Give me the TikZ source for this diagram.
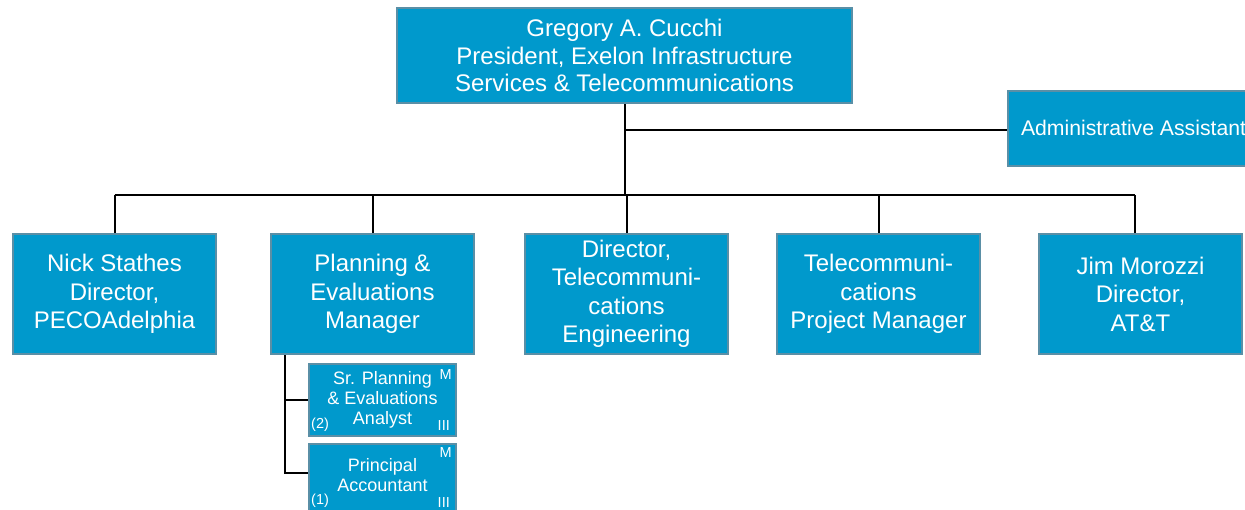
\documentclass[tikz,border=0pt]{standalone}
\usepackage{fontspec}
\setmainfont{Liberation Sans}
\usetikzlibrary{positioning}
\definecolor{boxfill}{HTML}{0099CC}
\definecolor{boxedge}{HTML}{5A8FA6}
\tikzset{
  orgbox/.style={draw=boxedge, line width=2pt, fill=boxfill, text=white, align=center, inner sep=0pt, font=\fontsize{24}{27.5}\selectfont},
  rowbox/.style={orgbox, minimum width=203pt, minimum height=120pt, font=\fontsize{24}{28.5}\selectfont},
  subbox/.style={orgbox, minimum width=147pt, minimum height=72pt, font=\fontsize{18}{20}\selectfont},
  tag/.style={text=white, inner sep=0pt, font=\fontsize{14.5}{15}\selectfont},
  orgline/.style={line width=2pt, black}
}

\begin{document}
\begin{tikzpicture}[x=1pt, y=-1pt]
\clip (0,0) rectangle (1245,509);
\node[orgbox, minimum width=455pt, minimum height=95pt] (pres) at (624.5,55.5) {Gregory A. Cucchi\\President, Exelon Infrastructure\\Services \& Telecommunications};
\node[orgbox, minimum height=75pt, anchor=west, inner xsep=13pt, font=\fontsize{21.2}{24}\selectfont] (admin) at (1007,128) {Administrative Assistant};
\node[rowbox] (stathes) at (114.5,294) {Nick Stathes\\Director,\\PECOAdelphia};
\node[rowbox] (pem) at (372.5,294) {Planning \&\\Evaluations\\Manager};
\node[rowbox] (tdir) at (626.5,294) {Director,\\Telecommuni-\\cations\\Engineering};
\node[rowbox] (tpm) at (878.5,294) {Telecommuni-\\cations\\Project Manager};
\node[rowbox] (morozzi) at (1140.5,294) {Jim Morozzi\\Director,\\AT\&T};
\node[subbox] (sr) at (382.5,399.5) {Sr. Planning\\\& Evaluations\\Analyst};
\node[subbox, below=6pt of sr, text depth=10pt] (pa) {Principal\\Accountant};
% grade tags
\node[tag, anchor=north east] at ([xshift=-5pt,yshift=-7pt]sr.north east) {M};
\node[tag, anchor=south east] at ([xshift=-7pt,yshift=6pt]sr.south east) {III};
\node[tag, anchor=south west] at ([xshift=3pt,yshift=5pt]sr.south west) {(2)};
\node[tag, anchor=north east] at ([xshift=-5pt,yshift=-5pt]pa.north east) {M};
\node[tag, anchor=south east] at ([xshift=-7pt,yshift=9pt]pa.south east) {III};
\node[tag, anchor=south west] at ([xshift=3pt,yshift=9pt]pa.south west) {(1)};
% connectors
\coordinate (bus) at (626,195);
\draw[orgline] (pres.south) -- (pres.south |- bus);
\draw[orgline] ([yshift=-2pt]pres.south |- admin.west) -- ([yshift=-2pt]admin.west);
\draw[orgline] (stathes.north |- bus) -- ([xshift=-6pt]morozzi.north |- bus);
\foreach \n in {stathes,pem,tdir,tpm}
  \draw[orgline] (\n.north) -- (\n.north |- bus);
\draw[orgline] ([xshift=-6pt]morozzi.north) -- ([xshift=-6pt]morozzi.north |- bus);
\coordinate (spur) at ([xshift=15pt]pem.south west);
\coordinate (pajoin) at ([yshift=7pt]pa.west);
\draw[orgline] (spur) -- (spur |- pajoin) -- (pajoin);
\draw[orgline] (spur |- sr.west) -- (sr.west);
\end{tikzpicture}
\end{document}
